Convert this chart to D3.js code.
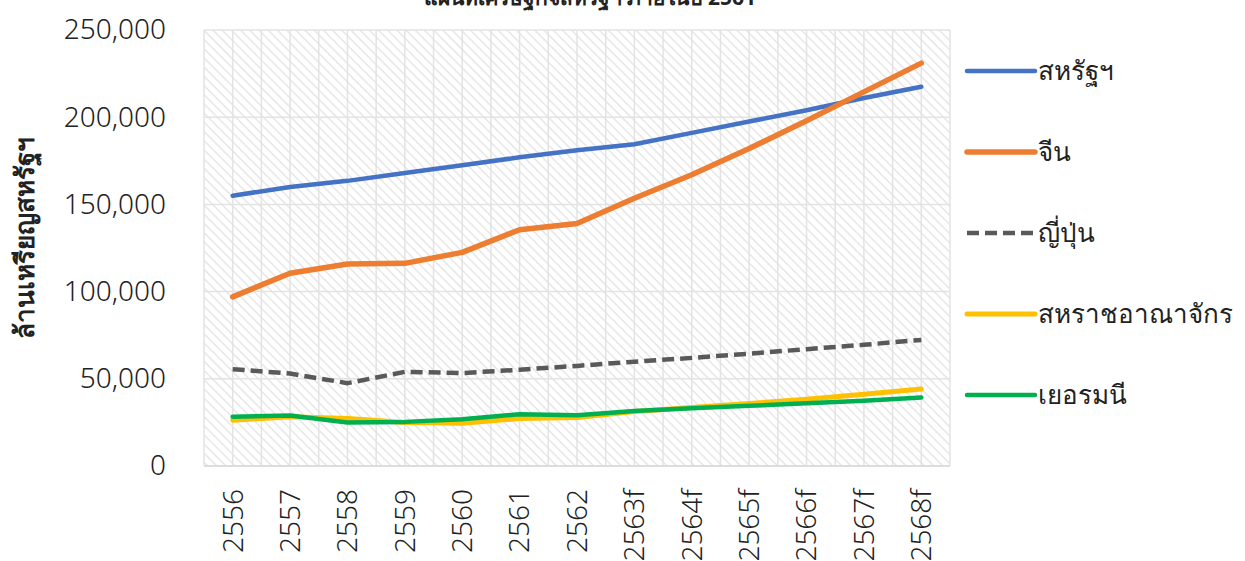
<!DOCTYPE html>
<html>
<head>
<meta charset="utf-8">
<script src="https://cdn.jsdelivr.net/npm/d3@7"></script>
<style>
  html, body { margin: 0; padding: 0; background: #fff; }
  svg text { font-family: "Noto Sans", "DejaVu Sans", sans-serif; fill: #222; }
</style>
</head>
<body>
<svg id="chart" width="1245" height="561"></svg>
<script>
// Years (Thai Buddhist calendar); "f" marks forecast years
const years = ["2556", "2557", "2558", "2559", "2560", "2561", "2562",
               "2563f", "2564f", "2565f", "2566f", "2567f", "2568f"];

// Values in million US dollars
const usa     = [155000, 160000, 163500, 168000, 172500, 177000, 181000, 184500, 191000, 197500, 204000, 211000, 217500];
const china   = [97000, 110500, 115800, 116200, 122500, 135500, 139000, 153500, 167000, 182000, 198000, 214500, 231000];
const japan   = [55500, 53000, 47500, 54000, 53300, 55200, 57400, 59800, 62000, 64400, 67000, 69500, 72300];
const uk      = [26300, 28200, 27200, 24900, 24500, 27200, 27800, 31200, 33500, 35800, 38300, 41200, 44200];
const germany = [28300, 29000, 24900, 25300, 26800, 29700, 29100, 31600, 33100, 34500, 36000, 37400, 39300];

const seriesNames = ["สหรัฐฯ", "จีน", "ญี่ปุ่น", "สหราชอาณาจักร", "เยอรมนี"];
const yTicks = [0, 50000, 100000, 150000, 200000, 250000];

const series = [
  { name: seriesNames[0], values: usa,     color: "#4472C4", width: 4.5, dash: null },
  { name: seriesNames[1], values: china,   color: "#ED7D31", width: 5.5, dash: null },
  { name: seriesNames[2], values: japan,   color: "#595959", width: 4.5, dash: "12,6" },
  { name: seriesNames[3], values: uk,      color: "#FFC000", width: 5,   dash: null },
  { name: seriesNames[4], values: germany, color: "#00B050", width: 4.5, dash: null }
];

const svg = d3.select("#chart");
const plot = { left: 204, right: 950, top: 30, bottom: 466 };

const x = d3.scaleBand().domain(years).range([plot.left, plot.right]);
const y = d3.scaleLinear().domain([0, 250000]).range([plot.bottom, plot.top]);
const cx = d => x(d) + x.bandwidth() / 2;

// Hatched plot background (diagonal "\" stripes)
const defs = svg.append("defs");
const pat = defs.append("pattern")
  .attr("id", "hatch").attr("patternUnits", "userSpaceOnUse")
  .attr("width", 6.5).attr("height", 6.5)
  .attr("patternTransform", "rotate(45)");
pat.append("rect").attr("width", 6.5).attr("height", 6.5).attr("fill", "#fff");
pat.append("line").attr("x1", 0).attr("y1", 0).attr("x2", 6.5).attr("y2", 0)
  .attr("stroke", "#e3e3e3").attr("stroke-width", 2.6);

svg.append("rect")
  .attr("x", plot.left).attr("y", plot.top)
  .attr("width", plot.right - plot.left).attr("height", plot.bottom - plot.top)
  .attr("fill", "url(#hatch)");

// Gridlines: horizontal at y ticks, vertical at category centres and boundaries
const grid = svg.append("g").attr("stroke", "#e3e3e3").attr("stroke-width", 1.5);
grid.selectAll("line.h").data(yTicks).join("line")
  .attr("x1", plot.left).attr("x2", plot.right)
  .attr("y1", d => y(d)).attr("y2", d => y(d));
const vgrid = [];
years.forEach(yr => { vgrid.push(x(yr)); vgrid.push(cx(yr)); });
vgrid.push(plot.right);
grid.selectAll("line.v").data(vgrid).join("line")
  .attr("y1", plot.top).attr("y2", plot.bottom)
  .attr("x1", d => d).attr("x2", d => d);

// Bottom axis line
svg.append("line")
  .attr("x1", plot.left).attr("x2", plot.right)
  .attr("y1", plot.bottom).attr("y2", plot.bottom)
  .attr("stroke", "#d9d9d9").attr("stroke-width", 1.5);

// Y axis labels
const yAxis = d3.axisLeft(y).tickValues(yTicks).tickSize(0).tickPadding(0)
  .tickFormat(d3.format(","));
svg.append("g").attr("transform", `translate(${plot.left - 38},0)`)
  .call(yAxis)
  .call(g => g.select(".domain").remove())
  .selectAll("text")
  .attr("font-size", 28).attr("font-weight", 300)
  .attr("font-family", "'Noto Sans', sans-serif").attr("fill", "#222");

// X axis labels (rotated)
const xAxis = d3.axisBottom(x).tickSize(0).tickPadding(0);
svg.append("g").attr("transform", `translate(0,${plot.bottom + 23})`)
  .call(xAxis)
  .call(g => g.select(".domain").remove())
  .selectAll("text")
  .attr("font-size", 28).attr("font-weight", 300)
  .attr("font-family", "'Noto Sans', sans-serif").attr("fill", "#222")
  .attr("text-anchor", "end")
  .attr("dy", "0.35em")
  .attr("transform", "rotate(-90)")
  .attr("x", 0).attr("y", 0);

// Lines
const line = d3.line().x((d, i) => cx(years[i])).y(d => y(d));
svg.append("g").selectAll("path").data(series).join("path")
  .attr("d", d => line(d.values))
  .attr("fill", "none")
  .attr("stroke", d => d.color)
  .attr("stroke-width", d => d.width)
  .attr("stroke-dasharray", d => d.dash)
  .attr("stroke-linejoin", "round")
  .attr("stroke-linecap", d => d.dash ? "butt" : "round");

// Legend
const legend = svg.append("g").attr("transform", "translate(965,71)");
const li = legend.selectAll("g").data(series).join("g")
  .attr("transform", (d, i) => `translate(0,${i * 81})`);
li.append("line").attr("x1", 2).attr("x2", 70).attr("y1", 0).attr("y2", 0)
  .attr("stroke", d => d.color).attr("stroke-width", d => d.width)
  .attr("stroke-dasharray", d => d.dash)
  .attr("stroke-linecap", d => d.dash ? "butt" : "round");
li.append("text").attr("x", 73).attr("y", 0).attr("dy", "0.35em")
  .attr("font-size", 26).attr("font-weight", 300).text(d => d.name);

// Y axis title
svg.append("text")
  .attr("transform", "translate(25,238) rotate(-90)")
  .attr("text-anchor", "middle")
  .attr("dy", "0.35em")
  .attr("font-size", 26).attr("font-weight", 700)
  .text("ล้านเหรียญสหรัฐฯ");

// Chart title (runs past the top edge)
svg.append("text")
  .attr("x", 590).attr("y", 5)
  .attr("text-anchor", "middle")
  .attr("font-size", 21).attr("font-weight", 700)
  .text("แผนที่เศรษฐกิจสหรัฐฯ ภายในปี 2561");
</script>
</body>
</html>
